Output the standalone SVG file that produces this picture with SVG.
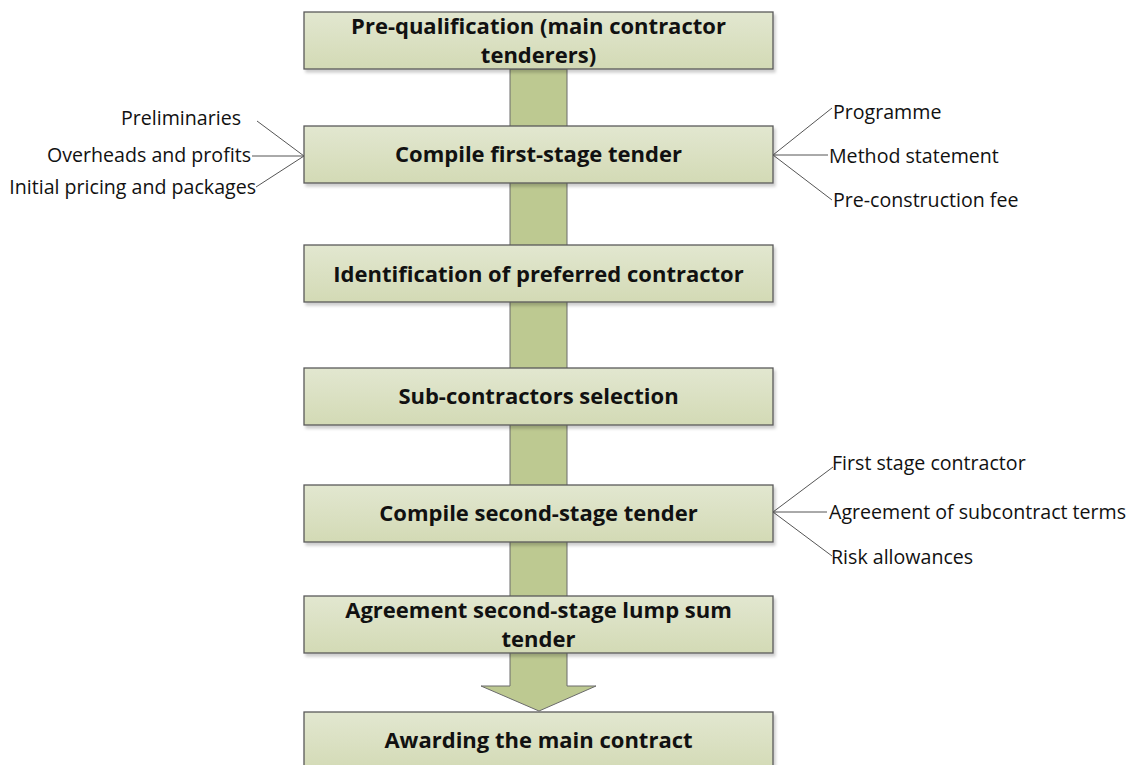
<svg xmlns="http://www.w3.org/2000/svg" width="1130" height="765" viewBox="0 0 1130 765">
  <style>
    .box { fill: url(#boxFill); stroke: #5a5a5a; stroke-width: 1.3; filter: url(#shadow); }
    .title { font-family: "Open Sans", "Liberation Sans", sans-serif; font-weight: bold; font-size: 22px; fill: #111; text-anchor: middle; }
    .note { font-family: "Open Sans", "Liberation Sans", sans-serif; font-size: 19.6px; fill: #111; }
    .lead { stroke: #555; stroke-width: 1; fill: none; }
  </style>
  <defs>
    <linearGradient id="boxFill" x1="0" y1="0" x2="0" y2="1">
      <stop offset="0" stop-color="#e2e7d0"/>
      <stop offset="1" stop-color="#d3dab5"/>
    </linearGradient>
    <filter id="shadow" x="-5%" y="-20%" width="110%" height="150%">
      <feDropShadow dx="2" dy="3" stdDeviation="1.5" flood-color="#000" flood-opacity="0.2"/>
    </filter>
  </defs>

  <rect width="1130" height="765" fill="#ffffff"/>

  <!-- main flow arrow behind the steps -->
  <g id="connectors">
    <path d="M510,69 L567,69 L567,686 L596,686 L539,711 L481,686 L510,686 Z" fill="#bdc991" stroke="#6b6b6b" stroke-width="1"/>
    <!-- inputs to the first-stage tender -->
    <line class="lead" x1="304" y1="156" x2="257" y2="121"/>
    <line class="lead" x1="304" y1="156" x2="252" y2="156"/>
    <line class="lead" x1="304" y1="156" x2="256" y2="187"/>
    <line class="lead" x1="773" y1="155" x2="832" y2="108"/>
    <line class="lead" x1="773" y1="155" x2="828" y2="155"/>
    <line class="lead" x1="773" y1="155" x2="832" y2="200"/>
    <!-- inputs to the second-stage tender -->
    <line class="lead" x1="773" y1="512" x2="833" y2="467"/>
    <line class="lead" x1="773" y1="512" x2="827" y2="512"/>
    <line class="lead" x1="773" y1="512" x2="832" y2="556"/>
  </g>

  <g id="step-prequalification">
    <rect class="box" x="304" y="12" width="469" height="57"/>
    <text class="title" x="538.5" y="34">Pre-qualification (main contractor</text>
    <text class="title" x="538.5" y="63">tenderers)</text>
  </g>
  <g id="step-first-stage">
    <rect class="box" x="304" y="126" width="469" height="57"/>
    <text class="title" x="538.5" y="162">Compile first-stage tender</text>
  </g>
  <g id="step-preferred">
    <rect class="box" x="304" y="245" width="469" height="57"/>
    <text class="title" x="538.5" y="282">Identification of preferred contractor</text>
  </g>
  <g id="step-subcontractors">
    <rect class="box" x="304" y="368" width="469" height="57"/>
    <text class="title" x="538.5" y="404">Sub-contractors selection</text>
  </g>
  <g id="step-second-stage">
    <rect class="box" x="304" y="485" width="469" height="57"/>
    <text class="title" x="538.5" y="521">Compile second-stage tender</text>
  </g>
  <g id="step-lump-sum">
    <rect class="box" x="304" y="596" width="469" height="57"/>
    <text class="title" x="538.5" y="618">Agreement second-stage lump sum</text>
    <text class="title" x="538.5" y="647">tender</text>
  </g>
  <g id="step-award">
    <rect class="box" x="304" y="712" width="469" height="60"/>
    <text class="title" x="538.5" y="748">Awarding the main contract</text>
  </g>

  <g id="labels-first-stage-left">
    <text class="note" x="241" y="125" text-anchor="end">Preliminaries</text>
    <text class="note" x="251" y="162" text-anchor="end">Overheads and profits</text>
    <text class="note" x="256" y="194" text-anchor="end">Initial pricing and packages</text>
  </g>
  <g id="labels-first-stage-right">
    <text class="note" x="833" y="119">Programme</text>
    <text class="note" x="829" y="163">Method statement</text>
    <text class="note" x="833" y="207">Pre-construction fee</text>
  </g>
  <g id="labels-second-stage">
    <text class="note" x="832" y="470">First stage contractor</text>
    <text class="note" x="829" y="519">Agreement of subcontract terms</text>
    <text class="note" x="831" y="564">Risk allowances</text>
  </g>
</svg>
